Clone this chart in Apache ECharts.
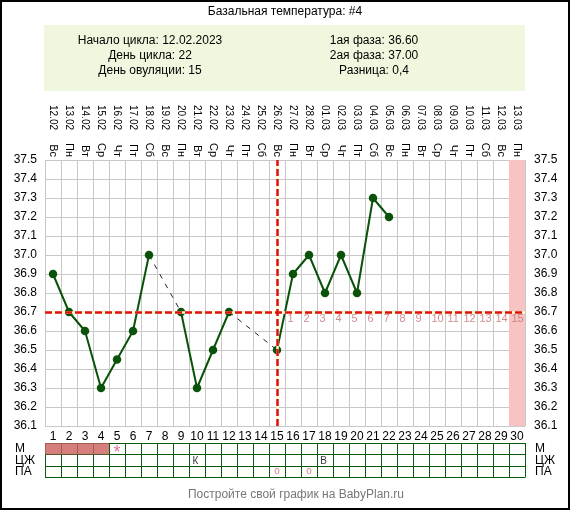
<!DOCTYPE html>
<html><head><meta charset="utf-8">
<script src="https://cdn.jsdelivr.net/npm/echarts@6/dist/echarts.min.js"></script>
<style>html,body{margin:0;padding:0;background:#fff}#c{width:570px;height:510px}</style>
</head><body><div id="c"></div>
<script>
// ---- data ----
const titleText = 'Базальная температура: #4';
const headerLeft = ['Начало цикла: 12.02.2023', 'День цикла: 22', 'День овуляции: 15'];
const headerRight = ['1ая фаза: 36.60', '2ая фаза: 37.00', 'Разница: 0,4'];
const footerText = 'Постройте свой график на BabyPlan.ru';

const dayNumbers = ['1','2','3','4','5','6','7','8','9','10','11','12','13','14','15','16','17','18','19','20','21','22','23','24','25','26','27','28','29','30'];
const weekdays = ['Вс','Пн','Вт','Ср','Чт','Пт','Сб','Вс','Пн','Вт','Ср','Чт','Пт','Сб','Вс','Пн','Вт','Ср','Чт','Пт','Сб','Вс','Пн','Вт','Ср','Чт','Пт','Сб','Вс','Пн'];
const dates = ['12.02','13.02','14.02','15.02','16.02','17.02','18.02','19.02','20.02','21.02','22.02','23.02','24.02','25.02','26.02','27.02','28.02','01.03','02.03','03.03','04.03','05.03','06.03','07.03','08.03','09.03','10.03','11.03','12.03','13.03'];
const temps = [36.9,36.7,36.6,36.3,36.45,36.6,37.0,null,36.7,36.3,36.5,36.7,null,null,36.5,36.9,37.0,36.8,37.0,36.8,37.3,37.2,null,null,null,null,null,null,null,null];

const tempMin = 36.1, tempMax = 37.5, tempStep = 0.1;
const coverline = 36.7;
const ovulationDay = 15;
const expectedDays = [30];

const tableRows = ['М','ЦЖ','ПА'];
const menstruationDays = [1,2,3,4];
const symptomMarks = [[5,'*']];
const mucusMarks = [[10,'К'],[18,'В']];
const testMarks = [[15,'о'],[17,'о']];

// ---- styles ----
const FONT = '"Liberation Sans", Arial, sans-serif';
const GRID_GRAY = '#c8c8c8';
const TABLE_GREEN = '#0b5a0b';
const LINE_GREEN = '#0a520a';
const RED = '#dd1111';
const PINK_TEXT = '#c07070';

// bridges across missing days
const bridges = [];
let last = null;
temps.forEach((t, i) => { if (t == null) return; if (last != null && i - last > 1) bridges.push([last, i]); last = i; });

const series = [];
series.push({
  type: 'bar', xAxisIndex: 0, yAxisIndex: 0, barWidth: '100%', silent: true, clip: true,
  itemStyle: { color: '#f7c3c3' },
  data: dayNumbers.map((d, i) => expectedDays.includes(i + 1) ? tempMax : null)
});
series.push({
  type: 'line', xAxisIndex: 0, yAxisIndex: 0, data: temps, connectNulls: false,
  symbol: 'circle', symbolSize: 8.5, showAllSymbol: true,
  lineStyle: { color: LINE_GREEN, width: 2 }, itemStyle: { color: LINE_GREEN }, z: 3
});
bridges.forEach(([a, b]) => {
  series.push({
    type: 'line', xAxisIndex: 0, yAxisIndex: 0, connectNulls: true, symbol: 'none', silent: true,
    data: temps.map((t, i) => (i === a || i === b) ? t : null),
    lineStyle: { color: '#222', width: 1, type: [5, 6] }, z: 3
  });
});
series.push({
  type: 'scatter', xAxisIndex: 0, yAxisIndex: 0, symbolSize: 1, silent: true,
  itemStyle: { color: 'rgba(0,0,0,0)' },
  data: dayNumbers.map((d, i) => i >= ovulationDay ? [i, coverline] : null).filter(v => v),
  label: { show: true, position: 'bottom', distance: 1, align: 'left', offset: [-5.5, 0],
    formatter: p => String(p.dataIndex + 1), color: PINK_TEXT, fontSize: 11, fontFamily: FONT }
});
// coverline & ovulation line: light underlay + red dashes
series.push({
  type: 'line', xAxisIndex: 0, yAxisIndex: 0, data: [],
  markLine: { silent: true, symbol: 'none', z: 6, label: { show: false }, animation: false,
    lineStyle: { color: '#ffffc8', width: 2.5, type: 'solid' },
    data: [{ yAxis: coverline }, { xAxis: ovulationDay - 1 }] }
});
series.push({
  type: 'line', xAxisIndex: 0, yAxisIndex: 0, data: [],
  markLine: { silent: true, symbol: 'none', z: 7, label: { show: false }, animation: false,
    lineStyle: { color: RED, width: 2.5, type: [7, 3] },
    data: [{ yAxis: coverline }, { xAxis: ovulationDay - 1 }] }
});
// table
series.push({
  type: 'scatter', xAxisIndex: 3, yAxisIndex: 2, symbol: 'rect', symbolSize: [16, 11.5], silent: true,
  itemStyle: { color: '#cc5e5e' },
  data: menstruationDays.map(d => [d - 1, 0])
});
const textItems = [];
symptomMarks.forEach(([d, s]) => textItems.push({ value: [d - 1, 0], label: { formatter: s, color: '#cc5588', fontSize: 18, offset: [0, 4.5] } }));
mucusMarks.forEach(([d, s]) => textItems.push({ value: [d - 1, 1], label: { formatter: s, color: '#000', fontSize: 10, offset: [-1.5, 0.5] } }));
testMarks.forEach(([d, s]) => textItems.push({ value: [d - 1, 2], label: { formatter: s, color: '#cc6677', fontSize: 10, offset: [0, -0.5] } }));
series.push({
  type: 'scatter', xAxisIndex: 3, yAxisIndex: 2, symbolSize: 1, silent: true,
  itemStyle: { color: 'rgba(0,0,0,0)' },
  label: { show: true, position: 'inside', fontFamily: FONT },
  data: textItems, z: 4
});

const hidden = { axisLine: { show: false }, axisTick: { show: false } };
const topLabel = { interval: 0, rotate: 90, color: '#000', fontFamily: FONT };
const option = {
  animation: false,
  backgroundColor: '#fff',
  textStyle: { fontFamily: FONT },
  grid: [
    { left: 45, top: 160, width: 480, height: 266, outerBoundsMode: 'none', containLabel: false },
    { left: 45, top: 443, width: 480, height: 34.5, outerBoundsMode: 'none', containLabel: false }
  ],
  xAxis: [
    Object.assign({ type: 'category', gridIndex: 0, data: dayNumbers, position: 'bottom',
      axisLabel: { interval: 0, margin: 5, fontSize: 12, color: '#000', fontFamily: FONT },
      splitLine: { show: true, interval: 0, lineStyle: { color: GRID_GRAY, width: 1 } } }, hidden),
    Object.assign({ type: 'category', gridIndex: 0, data: weekdays, position: 'top', offset: 0,
      axisLabel: Object.assign({ margin: 3, fontSize: 11 }, topLabel), splitLine: { show: false } }, hidden),
    Object.assign({ type: 'category', gridIndex: 0, data: dates, position: 'top', offset: 0,
      axisLabel: Object.assign({ margin: 30, fontSize: 10 }, topLabel), splitLine: { show: false } }, hidden),
    Object.assign({ type: 'category', gridIndex: 1, data: dayNumbers,
      axisLabel: { show: false },
      splitLine: { show: true, interval: 0, lineStyle: { color: TABLE_GREEN, width: 1 } } }, hidden)
  ],
  yAxis: [
    Object.assign({ type: 'value', gridIndex: 0, min: tempMin, max: tempMax, interval: tempStep,
      axisLabel: { formatter: v => v.toFixed(1), margin: 8, fontSize: 12, color: '#000', fontFamily: FONT },
      splitLine: { show: true, lineStyle: { color: GRID_GRAY, width: 1 } } }, hidden),
    Object.assign({ type: 'value', gridIndex: 0, position: 'right', min: tempMin, max: tempMax, interval: tempStep,
      axisLabel: { formatter: v => v.toFixed(1), margin: 9, fontSize: 12, color: '#000', fontFamily: FONT },
      splitLine: { show: false } }, hidden),
    Object.assign({ type: 'category', gridIndex: 1, data: tableRows, inverse: true,
      axisLabel: { interval: 0, align: 'left', margin: 30, fontSize: 12, color: '#000', fontFamily: FONT, padding: [6, 0, 0, 0] },
      splitLine: { show: true, interval: 0, lineStyle: { color: TABLE_GREEN, width: 1 } } }, hidden),
    Object.assign({ type: 'category', gridIndex: 1, data: tableRows, inverse: true, position: 'right',
      axisLabel: { interval: 0, margin: 10, fontSize: 12, color: '#000', fontFamily: FONT, padding: [6, 0, 0, 0] },
      splitLine: { show: false } }, hidden)
  ],
  graphic: [
    { type: 'text', x: 285, y: 12, style: { text: titleText, align: 'center', verticalAlign: 'middle', fontSize: 12, fontFamily: FONT, fill: '#000' } },
    { type: 'rect', shape: { x: 44, y: 25, width: 481, height: 66 }, style: { fill: '#eff7df' }, z: -1 },
    ...headerLeft.map((t, i) => ({ type: 'text', x: 150, y: 41 + i * 14.7, style: { text: t, align: 'center', verticalAlign: 'middle', fontSize: 12, fontFamily: FONT, fill: '#000' } })),
    ...headerRight.map((t, i) => ({ type: 'text', x: 374, y: 41 + i * 14.7, style: { text: t, align: 'center', verticalAlign: 'middle', fontSize: 12, fontFamily: FONT, fill: '#000' } })),
    { type: 'text', x: 296, y: 495, style: { text: footerText, align: 'center', verticalAlign: 'middle', fontSize: 12, fontFamily: FONT, fill: '#777' } },
    { type: 'rect', shape: { x: 1, y: 1, width: 568, height: 508 }, style: { fill: null, stroke: '#000', lineWidth: 2 }, z: 100 }
  ],
  series
};
const chart = echarts.init(document.getElementById('c'), null, { renderer: 'canvas' });
chart.setOption(option);
</script>
</body></html>
